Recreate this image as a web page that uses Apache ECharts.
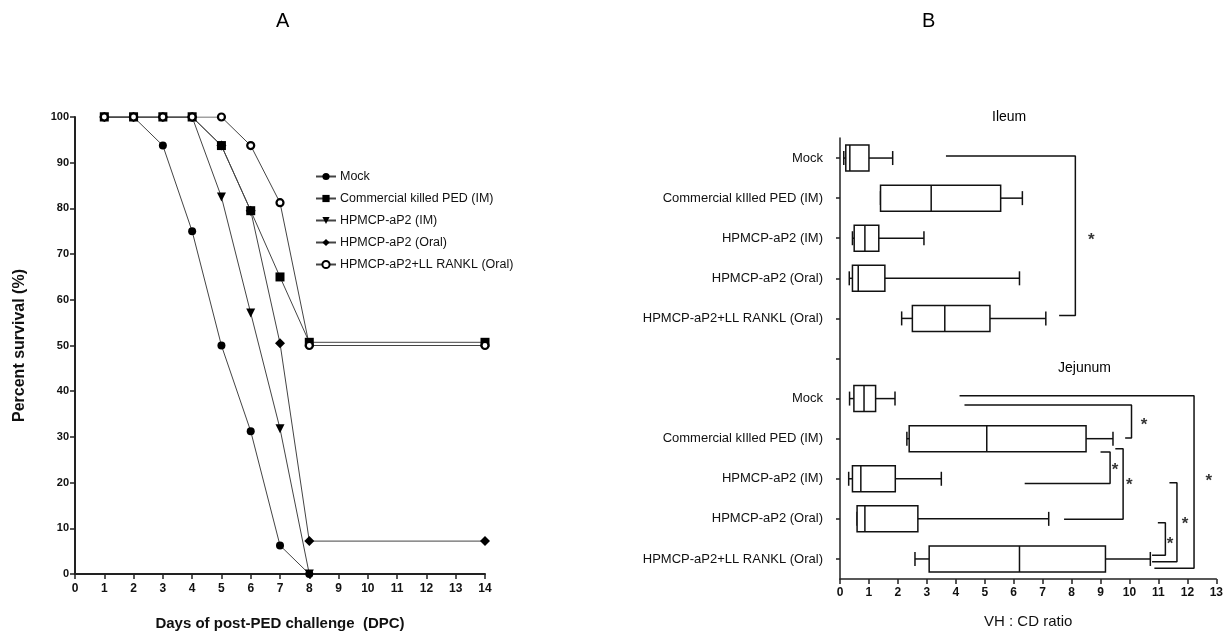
<!DOCTYPE html>
<html>
<head>
<meta charset="utf-8">
<script src="https://cdn.jsdelivr.net/npm/echarts@6/dist/echarts.min.js"></script>
<style>html,body{margin:0;padding:0;background:#fff}#c{width:1226px;height:636px}</style>
</head>
<body>
<div id="c"></div>
<script>
// ---------- Panel A data ----------
const seriesNames = ['Mock','Commercial killed PED (IM)','HPMCP-aP2 (IM)','HPMCP-aP2 (Oral)','HPMCP-aP2+LL RANKL (Oral)'];
const mockDays = [1,2,3,4,5,6,7,8];
const mockVals = [100,100,93.75,75,50,31.25,6.25,0];
const commDays = [1,2,3,4,5,6,7,8,14];
const commVals = [100,100,100,100,93.75,79.5,65,50.7,50.7];
const imDays = [1,2,3,4,5,6,7,8];
const imVals = [100,100,100,100,82.5,57.1,31.8,0];
const oralDays = [1,2,3,4,5,6,7,8,14];
const oralVals = [100,100,100,100,93.75,79.5,50.5,7.2,7.2];
const ranklDays = [1,2,3,4,5,6,7,8,14];
const ranklVals = [100,100,100,100,100,93.75,81.25,50,50];

// ---------- Panel B data ----------
const groupLabels = ['Mock','Commercial kIlled PED (IM)','HPMCP-aP2 (IM)','HPMCP-aP2 (Oral)','HPMCP-aP2+LL RANKL (Oral)'];
const boxCategories = groupLabels.concat([''], groupLabels);
// [min, Q1, median, Q3, max]
const ileumBoxes = [
  [0.13,0.2,0.34,1.0,1.82],
  [1.4,1.4,3.15,5.55,6.3],
  [0.43,0.49,0.86,1.34,2.9],
  [0.32,0.43,0.63,1.55,6.2],
  [2.13,2.5,3.62,5.18,7.11]
];
const jejunumBoxes = [
  [0.33,0.48,0.83,1.23,1.9],
  [2.31,2.39,5.07,8.5,9.43],
  [0.3,0.43,0.72,1.91,3.5],
  [0.59,0.59,0.86,2.69,7.21],
  [2.59,3.08,6.2,9.17,10.72]
];
// significance brackets: [xTopStart, yTop, xVertical, yBottom, xBottomStart] (y in category-index units)
const brackets = [
  [3.66,-0.05,8.13,3.93,7.57],
  [4.13,5.93,12.23,10.23,10.86],
  [4.3,6.16,10.07,6.98,9.85],
  [9.0,7.33,9.33,8.12,6.38],
  [9.51,7.25,9.78,9.01,7.74],
  [11.38,8.1,11.64,10.07,10.78],
  [10.98,9.1,11.24,9.91,10.78]
];
const stars = [[8.68,1.98],[12.74,7.99],[10.5,6.58],[9.5,7.72],[9.99,8.08],[11.92,9.05],[11.4,9.55]];

const FONT = 'Liberation Sans, Arial, sans-serif';
const chart = echarts.init(document.getElementById('c'));

function zip(a,b){return a.map((v,i)=>[v,b[i]]);}
const lineCommon = {
  type:'line', xAxisIndex:0, yAxisIndex:0, symbolSize:8,
  lineStyle:{color:'#444', width:1}, itemStyle:{color:'#000'}, emphasis:{disabled:true}
};

const boxData = [];
ileumBoxes.forEach((b,i)=>boxData.push([i].concat(b)));
jejunumBoxes.forEach((b,i)=>boxData.push([i+6].concat(b)));

const bracketSeries = brackets.map(b => ({
  type:'line', xAxisIndex:1, yAxisIndex:2, symbol:'none', silent:true,
  lineStyle:{color:'#111', width:1.5},
  data:[[b[0],b[1]],[b[2],b[1]],[b[2],b[3]],[b[4],b[3]]]
}));

chart.setOption({
  animation:false,
  textStyle:{fontFamily:FONT},
  graphic:[
    {type:'text', left:276, top:11, style:{text:'A', font:'20px '+FONT, fill:'#000'}},
    {type:'text', left:922, top:11, style:{text:'B', font:'20px '+FONT, fill:'#000'}},
    {type:'text', left:992, top:110, style:{text:'Ileum', font:'14px '+FONT, fill:'#000'}},
    {type:'text', left:1058, top:361, style:{text:'Jejunum', font:'14px '+FONT, fill:'#000'}}
  ],
  legend:{
    data:seriesNames, orient:'vertical', left:310, top:165, itemGap:9,
    itemWidth:20, itemHeight:9, itemStyle:{},
    textStyle:{fontFamily:FONT, fontSize:12.5, color:'#111', padding:[0,0,0,-1]}
  },
  grid:[
    {left:75, right:741, top:117, bottom:60},
    {left:840, right:5, top:138, bottom:57}
  ],
  xAxis:[
    {gridIndex:0, type:'value', min:0, max:14, interval:1,
     name:'Days of post-PED challenge  (DPC)', nameLocation:'middle', nameGap:42,
     nameTextStyle:{fontFamily:FONT, fontSize:15, fontWeight:'bold', color:'#111'},
     axisLine:{onZero:false, lineStyle:{color:'#222', width:2}}, axisTick:{length:5, lineStyle:{color:'#222', width:1.5}},
     axisLabel:{margin:9, fontFamily:FONT, fontSize:12, fontWeight:'bold', color:'#111'},
     splitLine:{show:false}},
    {gridIndex:1, type:'value', min:0, max:13, interval:1,
     name:'VH : CD ratio', nameLocation:'middle', nameGap:35,
     nameTextStyle:{fontFamily:FONT, fontSize:15, color:'#111'},
     axisLine:{onZero:false, lineStyle:{color:'#222', width:1.5}}, axisTick:{length:5, lineStyle:{color:'#222', width:1.5}},
     axisLabel:{margin:8, fontFamily:FONT, fontSize:12, fontWeight:'bold', color:'#111'},
     splitLine:{show:false}}
  ],
  yAxis:[
    {gridIndex:0, type:'value', min:0, max:100, interval:10,
     name:'Percent survival (%)', nameLocation:'middle', nameGap:47, nameRotate:90,
     nameTextStyle:{fontFamily:FONT, fontSize:16, fontWeight:'bold', color:'#111'},
     axisLine:{show:true, onZero:false, lineStyle:{color:'#222', width:2}}, axisTick:{show:true, length:5, lineStyle:{color:'#222', width:1.5}},
     axisLabel:{margin:6, fontFamily:FONT, fontSize:11, fontWeight:'bold', color:'#111'},
     splitLine:{show:false}},
    {gridIndex:1, type:'category', data:boxCategories, inverse:true,
     axisLine:{show:true, onZero:false, lineStyle:{color:'#222', width:1.5}},
     axisTick:{show:true, alignWithLabel:true, length:4, lineStyle:{color:'#222', width:1.5}},
     axisLabel:{margin:17, fontFamily:FONT, fontSize:13, color:'#111', interval:0},
     splitLine:{show:false}},
    {gridIndex:1, type:'value', min:-0.5, max:10.5, inverse:true, show:false, splitLine:{show:false},
     axisLine:{onZero:false}}
  ],
  series:[
    Object.assign({}, lineCommon, {name:seriesNames[0], symbol:'circle', data:zip(mockDays,mockVals)}),
    Object.assign({}, lineCommon, {name:seriesNames[1], symbol:'rect', symbolSize:9, data:zip(commDays,commVals)}),
    Object.assign({}, lineCommon, {name:seriesNames[2], symbol:'triangle', symbolRotate:180, symbolSize:9, data:zip(imDays,imVals)}),
    Object.assign({}, lineCommon, {name:seriesNames[3], symbol:'diamond', symbolSize:10, data:zip(oralDays,oralVals)}),
    Object.assign({}, lineCommon, {name:seriesNames[4], symbol:'circle', symbolSize:7,
      itemStyle:{color:'#fff', borderColor:'#000', borderWidth:2.2}, data:zip(ranklDays,ranklVals)}),
    {
      type:'custom', xAxisIndex:1, yAxisIndex:1, silent:true,
      encode:{y:0, x:[1,2,3,4,5]},
      data:boxData,
      renderItem:function(params, api){
        const yi = api.value(0);
        const p = [1,2,3,4,5].map(d => api.coord([api.value(d), yi]));
        const cy = p[0][1];
        const hb = 13, hc = 7;
        const st = {stroke:'#111', lineWidth:1.5, fill:'none'};
        return {type:'group', children:[
          {type:'line', shape:{x1:p[0][0], y1:cy, x2:p[1][0], y2:cy}, style:st},
          {type:'line', shape:{x1:p[3][0], y1:cy, x2:p[4][0], y2:cy}, style:st},
          {type:'line', shape:{x1:p[0][0], y1:cy-hc, x2:p[0][0], y2:cy+hc}, style:st},
          {type:'line', shape:{x1:p[4][0], y1:cy-hc, x2:p[4][0], y2:cy+hc}, style:st},
          {type:'rect', shape:{x:p[1][0], y:cy-hb, width:p[3][0]-p[1][0], height:2*hb}, style:{stroke:'#111', lineWidth:1.5, fill:'#fff'}},
          {type:'line', shape:{x1:p[2][0], y1:cy-hb, x2:p[2][0], y2:cy+hb}, style:st}
        ]};
      }
    }
  ].concat(bracketSeries, [{
    type:'scatter', xAxisIndex:1, yAxisIndex:2, symbol:'circle', symbolSize:1, silent:true,
    itemStyle:{color:'rgba(0,0,0,0)'},
    label:{show:true, formatter:'*', position:'inside', offset:[0,3], fontFamily:FONT, fontSize:17, fontWeight:'bold', color:'#000'},
    data:stars
  }])
});
</script>
</body>
</html>
